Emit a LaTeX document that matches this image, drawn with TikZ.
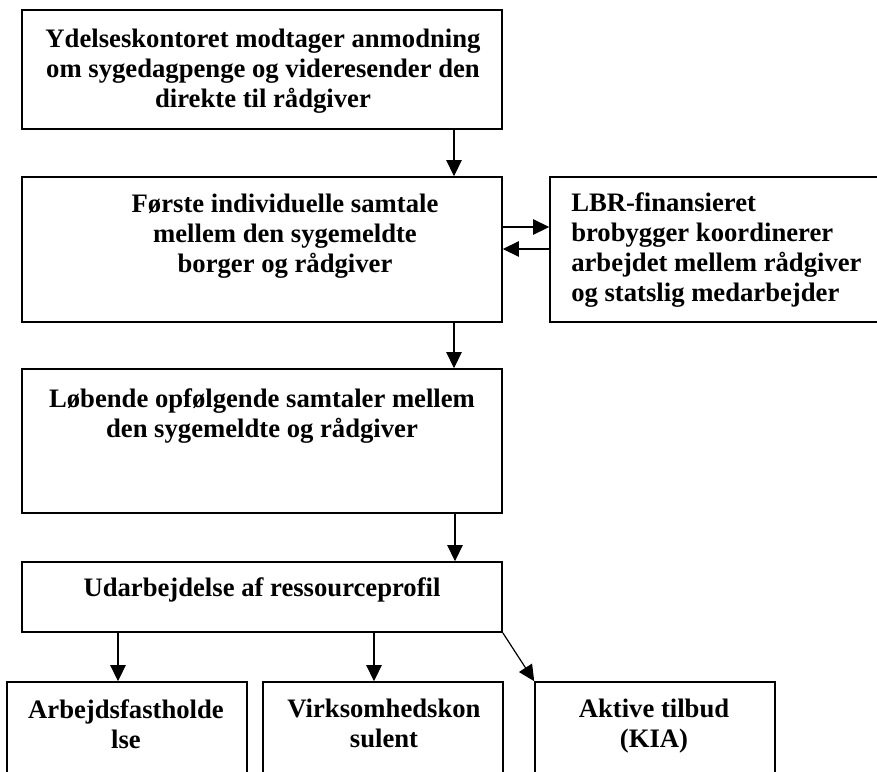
\documentclass[tikz,border=0pt]{standalone}
\usepackage{fontspec}
\setmainfont{Liberation Serif}
\usetikzlibrary{arrows.meta,fit}
\begin{document}
\begin{tikzpicture}[x=0.75pt,y=-0.75pt,
    box/.style={draw,line width=1.2pt,inner sep=0pt,fit={#1}},
    txt/.style={inner sep=0pt,font=\fontsize{20}{22.5}\selectfont\bfseries},
    arr/.style={-{Triangle[length=12pt,width=11.5pt]},line width=0.9pt}]
    \useasboundingbox (0,0) rectangle (877,771);
    \clip (0,0) rectangle (877,771);
    % boxes
    \node[box={(22,10) (502,129)}] (ydelse) {};
    \node[box={(22,177) (502,322)}] (forste) {};
    \node[box={(550,177) (885,322)}] (lbr) {};
    \node[box={(22,369) (502,513)}] (lobende) {};
    \node[box={(22,562) (502,632)}] (udarb) {};
    \node[box={(7,682) (247,800)}] (fasth) {};
    \node[box={(263,682) (503,800)}] (virk) {};
    \node[box={(535,682) (775,800)}] (aktiv) {};
    % texts
    \node[txt,anchor=north,align=center] (ydelsetxt) at (263,29)
        {Ydelseskontoret modtager anmodning\\om sygedagpenge og videresender den\\direkte til rådgiver};
    \node[txt,anchor=north,align=center] (forstetxt) at (285,194)
        {Første individuelle samtale\\mellem den sygemeldte\\borger og rådgiver};
    \node[txt,anchor=north west,align=left] (lbrtxt) at (571,192)
        {LBR-finansieret\\brobygger koordinerer\\arbejdet mellem rådgiver\\og statslig medarbejder};
    \node[txt,anchor=north,align=center] (lobendetxt) at (262,388)
        {Løbende opfølgende samtaler mellem\\den sygemeldte og rådgiver};
    \node[txt,anchor=north,align=center] (udarbtxt) at (262,577)
        {Udarbejdelse af ressourceprofil};
    \node[txt,anchor=north,align=center] (fasthtxt) at (126,699)
        {Arbejdsfastholde\\lse};
    \node[txt,anchor=north,align=center] (virktxt) at (384,699)
        {Virksomhedskon\\sulent};
    \node[txt,anchor=north,align=center] (aktivtxt) at (654,699)
        {Aktive tilbud\\(KIA)};
    % arrows
    \coordinate (colA) at (454,0);
    \coordinate (colB) at (455,0);
    \coordinate (colC) at (118,0);
    \coordinate (colD) at (374,0);
    \coordinate (rowA) at (0,227);
    \coordinate (rowB) at (0,249);
    \draw[arr] (ydelse.south -| colA) -- (forste.north -| colA);
    \draw[arr] (forste.east |- rowA) -- (lbr.west |- rowA);
    \draw[arr] (lbr.west |- rowB) -- (forste.east |- rowB);
    \draw[arr] (forste.south -| colA) -- (lobende.north -| colA);
    \draw[arr] (lobende.south -| colB) -- (udarb.north -| colB);
    \draw[arr] (udarb.south -| colC) -- (fasth.north -| colC);
    \draw[arr] (udarb.south -| colD) -- (virk.north -| colD);
    \draw[arr] (udarb.south east) -- (aktiv.north west);
\end{tikzpicture}
\end{document}
